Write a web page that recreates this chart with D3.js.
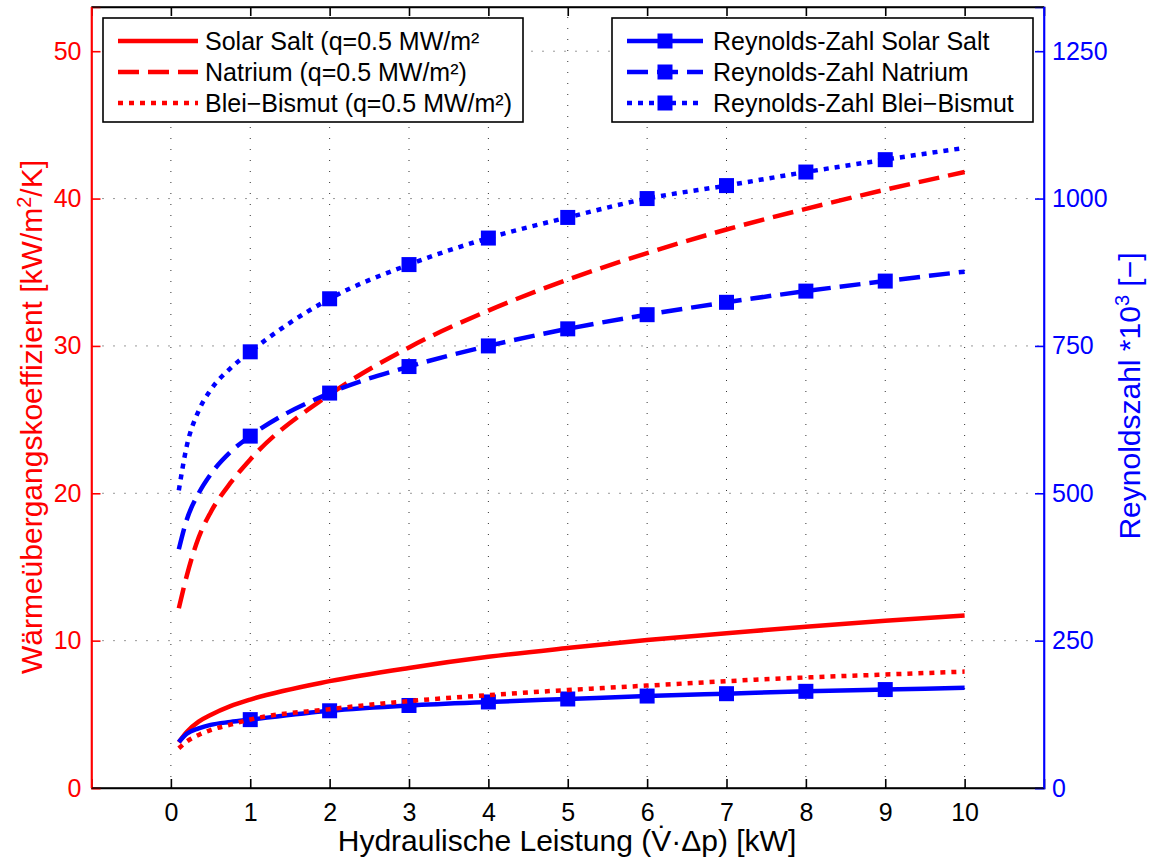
<!DOCTYPE html>
<html>
<head>
<meta charset="utf-8">
<script src="https://cdn.jsdelivr.net/npm/d3@7"></script>
<style>
body{margin:0;background:#fff;}
svg{display:block;font-family:"Liberation Sans",Arial,Helvetica,sans-serif;}
</style>
</head>
<body>
<svg id="chart" width="1152" height="861"></svg>
<script>
// x values (kW)
const xVals = [0.1, 0.2, 0.35, 0.5, 0.75, 1, 2, 3, 4, 5, 6, 7, 8, 9, 10];
// Heat transfer coefficient [kW/m²/K] (left axis)
const htcSolarSalt = [3.1, 3.8, 4.5, 4.95, 5.55, 6.0, 7.25, 8.15, 8.9, 9.5, 10.05, 10.5, 10.95, 11.35, 11.7];
const htcNatrium   = [12.2, 14.4, 17.0, 18.7, 20.7, 22.3, 26.7, 29.9, 32.4, 34.5, 36.3, 37.9, 39.3, 40.6, 41.8];
const htcBleiBismut= [2.7, 3.15, 3.6, 3.93, 4.3, 4.65, 5.35, 5.9, 6.3, 6.65, 6.95, 7.25, 7.5, 7.7, 7.9];
// Reynolds number *10^3 (right axis)
const reSolarSalt  = [78, 92, 101, 107, 112, 116, 131, 140, 146, 151, 156, 160, 164, 167, 170];
const reNatrium    = [405, 455, 500, 532, 570, 597, 670, 715, 750, 779, 803, 824, 843, 860, 876];
const reBleiBismut = [505, 580, 640, 675, 712, 740, 830, 888, 933, 968, 1000, 1022, 1045, 1066, 1086];
const markerX = [1, 2, 3, 4, 5, 6, 7, 8, 9];

const xTicks = [0,1,2,3,4,5,6,7,8,9,10];
const yLeftTicks = [0,10,20,30,40,50];
const yRightTicks = [0,250,500,750,1000,1250];

const leftLegendLabels = ["Solar Salt (q=0.5 MW/m²", "Natrium (q=0.5 MW/m²)", "Blei\u2212Bismut (q=0.5 MW/m²)"];
const rightLegendLabels = ["Reynolds-Zahl Solar Salt", "Reynolds-Zahl Natrium", "Reynolds-Zahl Blei\u2212Bismut"];

const RED = "#ff0000", BLUE = "#0000ff";
const DASH = "21,9", DOT = "5,6";
const TICKFONT = "25px", LEGFONT = "25px", TITLEFONT = "30px";

const svg = d3.select("#chart");
const L = 91.5, R = 1044, T = 7, B = 788;

const x = d3.scaleLinear().domain([-1, 11]).range([L, R]);
const yL = d3.scaleLinear().domain([0, 53]).range([B, T]);
const yR = d3.scaleLinear().domain([0, 1325]).range([B, T]);

// grid
const grid = svg.append("g").attr("stroke", "#333").attr("stroke-width", 1).attr("stroke-dasharray", "1,10");
xTicks.forEach(t => grid.append("line").attr("x1", x(t)).attr("x2", x(t)).attr("y1", B).attr("y2", T));
yLeftTicks.filter(t => t > 0).forEach(t => grid.append("line").attr("x1", L).attr("x2", R).attr("y1", yL(t)).attr("y2", yL(t)));

// axes
const tickLen = 9;
const gxb = svg.append("g").attr("transform", `translate(0,${B})`)
  .call(d3.axisBottom(x).tickValues(xTicks).tickSize(-tickLen).tickPadding(15).tickFormat(d3.format("d")));
const gxt = svg.append("g").attr("transform", `translate(0,${T})`)
  .call(d3.axisTop(x).tickValues(xTicks).tickSize(-tickLen).tickFormat(""));
const gyl = svg.append("g").attr("transform", `translate(${L},0)`)
  .call(d3.axisLeft(yL).tickValues(yLeftTicks).tickSize(-tickLen).tickPadding(10).tickFormat(d3.format("d")));
const gyr = svg.append("g").attr("transform", `translate(${R},0)`)
  .call(d3.axisRight(yR).tickValues(yRightTicks).tickSize(-tickLen).tickPadding(8).tickFormat(d3.format("d")));

function styleAxis(g, color) {
  g.select(".domain").attr("stroke", color).attr("stroke-width", 1.6);
  g.selectAll(".tick line").attr("stroke", color).attr("stroke-width", 1.6);
  g.selectAll("text").attr("fill", color).style("font-size", TICKFONT)
    .style("font-family", "Liberation Sans, Arial, sans-serif");
}
styleAxis(gxb, "#000"); styleAxis(gxt, "#000");
styleAxis(gyl, RED); styleAxis(gyr, BLUE);

// frame lines
svg.append("line").attr("x1", L).attr("x2", R).attr("y1", T).attr("y2", T).attr("stroke", "#000").attr("stroke-width", 1.6);
svg.append("line").attr("x1", L).attr("x2", R).attr("y1", B).attr("y2", B).attr("stroke", "#000").attr("stroke-width", 1.6);
svg.append("line").attr("x1", L).attr("x2", L).attr("y1", T).attr("y2", B).attr("stroke", RED).attr("stroke-width", 1.6);
svg.append("line").attr("x1", R).attr("x2", R).attr("y1", T).attr("y2", B).attr("stroke", BLUE).attr("stroke-width", 1.6);

// lines
const mk = vals => xVals.map((xv, i) => [xv, vals[i]]);
const lineL = d3.line().x(d => x(d[0])).y(d => yL(d[1])).curve(d3.curveMonotoneX);
const lineR = d3.line().x(d => x(d[0])).y(d => yR(d[1])).curve(d3.curveMonotoneX);

const seriesBlue = [
  {vals: reSolarSalt, dash: null},
  {vals: reNatrium, dash: DASH},
  {vals: reBleiBismut, dash: DOT}
];
const seriesRed = [
  {vals: htcSolarSalt, dash: null},
  {vals: htcNatrium, dash: DASH}
];

seriesRed.forEach(s => {
  svg.append("path").datum(mk(s.vals)).attr("d", lineL).attr("fill", "none")
    .attr("stroke", RED).attr("stroke-width", 4.5).attr("stroke-dasharray", s.dash);
});
seriesBlue.forEach(s => {
  svg.append("path").datum(mk(s.vals)).attr("d", lineR).attr("fill", "none")
    .attr("stroke", BLUE).attr("stroke-width", 4.5).attr("stroke-dasharray", s.dash);
  const pts = markerX.map(mx => [mx, s.vals[xVals.indexOf(mx)]]);
  svg.append("g").selectAll("rect").data(pts).join("rect")
    .attr("x", d => x(d[0]) - 7.5).attr("y", d => yR(d[1]) - 7.5)
    .attr("width", 15).attr("height", 15).attr("fill", BLUE);
});
// red dotted drawn over the blue solid line, as in the reference
svg.append("path").datum(mk(htcBleiBismut)).attr("d", lineL).attr("fill", "none")
  .attr("stroke", RED).attr("stroke-width", 4.5).attr("stroke-dasharray", DOT);

// legends
function legend(x0, y0, w, h, labels, color, sampleX1, sampleX2, textX, withMarker) {
  const g = svg.append("g");
  g.append("rect").attr("x", x0).attr("y", y0).attr("width", w).attr("height", h)
    .attr("fill", "#fff").attr("stroke", "#000").attr("stroke-width", 1.6);
  const dashes = [null, DASH, DOT];
  labels.forEach((lab, i) => {
    const yy = y0 + 23 + i * 31;
    g.append("line").attr("x1", sampleX1).attr("x2", sampleX2).attr("y1", yy).attr("y2", yy)
      .attr("stroke", color).attr("stroke-width", 4.5).attr("stroke-dasharray", dashes[i]);
    if (withMarker) {
      g.append("rect").attr("x", (sampleX1 + sampleX2) / 2 - 7.5).attr("y", yy - 7.5)
        .attr("width", 15).attr("height", 15).attr("fill", color);
    }
    g.append("text").attr("x", textX).attr("y", yy + 9).text(lab)
      .attr("fill", "#000").style("font-size", LEGFONT);
  });
}
legend(103, 18, 420, 104, leftLegendLabels, RED, 118, 198, 205, false);
legend(612, 18, 421, 104, rightLegendLabels, BLUE, 627, 703, 713, true);

// axis titles
svg.append("text").attr("x", 567).attr("y", 851).attr("text-anchor", "middle")
  .style("font-size", TITLEFONT).attr("fill", "#000")
  .text("Hydraulische Leistung (V\u0307\u00B7\u0394p) [kW]");

svg.append("text").attr("transform", `translate(42,417) rotate(-90)`)
  .attr("text-anchor", "middle").style("font-size", TITLEFONT).attr("fill", RED)
  .html("Wärmeübergangskoeffizient [kW/m<tspan dy='-11' font-size='20px'>2</tspan><tspan dy='11'>/K]</tspan>");

svg.append("text").attr("transform", `translate(1140,396) rotate(-90)`)
  .attr("text-anchor", "middle").style("font-size", TITLEFONT).attr("fill", BLUE)
  .html("Reynoldszahl *10<tspan dy='-11' font-size='20px'>3</tspan><tspan dy='11'> [\u2212]</tspan>");
</script>
</body>
</html>
